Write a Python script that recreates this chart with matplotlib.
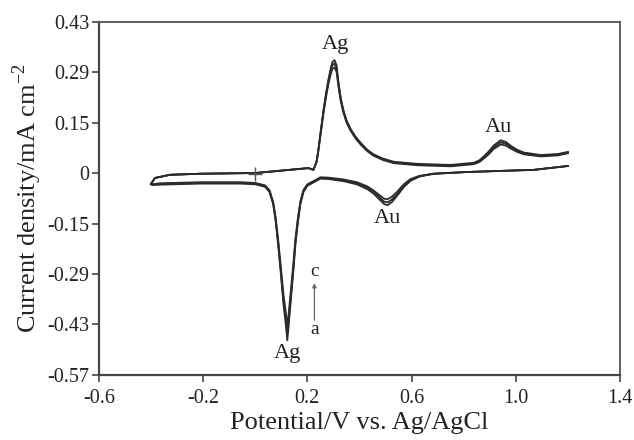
import numpy as np
import matplotlib
matplotlib.use('Agg')
from matplotlib import pyplot as plt

plt.rcParams['font.family'] = ['Liberation Serif', 'DejaVu Serif']
plt.rcParams['mathtext.fontset'] = 'custom'
plt.rcParams['mathtext.rm'] = 'Liberation Serif'

# Прямая развертка (от -0.4 В к 1.2 В)
E_fwd = [-0.40, -0.385, -0.327, -0.212, 0.0, 0.204, 0.223, 0.235, 0.242, 0.252,
         0.262, 0.272, 0.281, 0.290, 0.296, 0.304, 0.312, 0.319, 0.328, 0.338,
         0.350, 0.365, 0.385, 0.404, 0.430, 0.454, 0.490, 0.531, 0.623, 0.750,
         0.838, 0.860, 0.877, 0.897, 0.915, 0.942, 0.962, 0.981, 1.005, 1.031,
         1.096, 1.162, 1.20]
j_fwd_a = [-0.029, -0.012, -0.003, 0.0, 0.002, 0.016, 0.011, 0.033, 0.067, 0.125,
           0.181, 0.230, 0.268, 0.300, 0.316, 0.322, 0.308, 0.262, 0.215, 0.181,
           0.152, 0.128, 0.105, 0.088, 0.068, 0.055, 0.043, 0.034, 0.028, 0.025,
           0.031, 0.038, 0.049, 0.064, 0.080, 0.095, 0.090, 0.079, 0.068, 0.060,
           0.053, 0.056, 0.062]
j_fwd_b = [-0.029, -0.012, -0.003, 0.0, 0.002, 0.016, 0.011, 0.033, 0.066, 0.122,
           0.177, 0.225, 0.262, 0.292, 0.307, 0.312, 0.299, 0.256, 0.211, 0.178,
           0.149, 0.126, 0.103, 0.086, 0.066, 0.053, 0.041, 0.032, 0.026, 0.023,
           0.029, 0.035, 0.046, 0.060, 0.075, 0.089, 0.085, 0.075, 0.065, 0.057,
           0.051, 0.054, 0.060]
j_fwd_c = [-0.029, -0.012, -0.003, 0.0, 0.002, 0.016, 0.011, 0.032, 0.063, 0.118,
           0.172, 0.219, 0.255, 0.283, 0.297, 0.301, 0.289, 0.249, 0.206, 0.174,
           0.146, 0.123, 0.100, 0.083, 0.064, 0.051, 0.039, 0.030, 0.024, 0.021,
           0.027, 0.033, 0.043, 0.056, 0.070, 0.083, 0.080, 0.071, 0.062, 0.055,
           0.049, 0.052, 0.058]

# Обратная развертка (от 1.2 В к -0.4 В)
E_rev = [1.20, 1.069, 0.942, 0.815, 0.685, 0.630, 0.596, 0.570, 0.546, 0.525,
         0.508, 0.495, 0.481, 0.455, 0.431, 0.390, 0.338, 0.280, 0.250, 0.238,
         0.200, 0.185, 0.173, 0.163, 0.154, 0.145, 0.135, 0.128, 0.123, 0.118,
         0.108, 0.098, 0.088, 0.078, 0.069, 0.055, 0.038, 0.0, -0.058, -0.212,
         -0.365, -0.395, -0.40]
j_rev_a = [0.022, 0.011, 0.008, 0.005, 0.0, -0.008, -0.020, -0.038, -0.061, -0.080,
           -0.089, -0.086, -0.076, -0.057, -0.044, -0.030, -0.021, -0.015, -0.014, -0.019,
           -0.034, -0.052, -0.087, -0.142, -0.202, -0.287, -0.372, -0.432, -0.472, -0.432,
           -0.367, -0.282, -0.202, -0.132, -0.087, -0.052, -0.037, -0.030, -0.028, -0.028,
           -0.031, -0.032, -0.029]
j_rev_b = [0.022, 0.011, 0.008, 0.005, 0.0, -0.007, -0.018, -0.035, -0.056, -0.073,
           -0.081, -0.079, -0.070, -0.052, -0.040, -0.027, -0.018, -0.013, -0.012, -0.017,
           -0.032, -0.049, -0.083, -0.136, -0.195, -0.278, -0.360, -0.418, -0.455, -0.418,
           -0.356, -0.274, -0.196, -0.128, -0.084, -0.050, -0.035, -0.028, -0.026, -0.026,
           -0.029, -0.031, -0.029]
j_rev_c = [0.022, 0.011, 0.008, 0.005, 0.0, -0.006, -0.015, -0.030, -0.050, -0.065,
           -0.072, -0.071, -0.063, -0.048, -0.036, -0.024, -0.016, -0.011, -0.010, -0.015,
           -0.030, -0.046, -0.079, -0.129, -0.186, -0.265, -0.343, -0.398, -0.435, -0.398,
           -0.340, -0.262, -0.188, -0.123, -0.081, -0.047, -0.033, -0.026, -0.024, -0.024,
           -0.027, -0.030, -0.029]

yTickLabels = ['0.43', '0.29', '0.15', '0', '-0.15', '-0.29', '-0.43', '-0.57']
xTicks = [-0.6, -0.2, 0.2, 0.6, 1.0, 1.4]
xTickLabels = ['-0.6', '-0.2', '0.2', '0.6', '1.0', '1.4']

fig = plt.figure(figsize=(6.34, 4.4), dpi=100)
ax = fig.add_axes([0.156, 0.148, 0.822, 0.802])

lineColor = '#2b2b2b'
for jf, jr in [(j_fwd_a, j_rev_a), (j_fwd_b, j_rev_b), (j_fwd_c, j_rev_c)]:
    ax.plot(E_fwd, jf, color=lineColor, linewidth=1.3, solid_joinstyle='round')
    ax.plot(E_rev, jr, color=lineColor, linewidth=1.3, solid_joinstyle='round')

# отметка начала координат
ax.plot([0.0], [0.0], marker='+', markersize=10, color='#555555', markeredgewidth=1)

ax.set_xlim(-0.6, 1.4)
ax.set_ylim(-0.57, 0.43)
ax.set_xticks(xTicks)
ax.set_xticklabels(xTickLabels)
ax.set_yticks(np.linspace(0.43, -0.57, len(yTickLabels)))
ax.set_yticklabels(yTickLabels)

ax.tick_params(direction='out', length=5, width=1.2, colors='#444444',
               labelsize=14.5, labelcolor='#222222')
ax.tick_params(axis='y', pad=2)
ax.tick_params(axis='x', pad=5)
for side in ['left', 'bottom']:
    ax.spines[side].set_linewidth(1.6)
    ax.spines[side].set_color('#444444')
for side in ['top', 'right']:
    ax.spines[side].set_linewidth(1.3)
    ax.spines[side].set_color('#555555')

ax.set_xlabel('Potential/V vs. Ag/AgCl', fontsize=19, color='#222222', labelpad=3)
ax.set_ylabel('Current density/mA cm$^{-2}$', fontsize=19, color='#222222', labelpad=2)

textColor = '#222222'
ax.text(0.308, 0.34, 'Ag', fontsize=16, ha='center', va='bottom', color=textColor)
ax.text(0.935, 0.105, 'Au', fontsize=16, ha='center', va='bottom', color=textColor)
ax.text(0.508, -0.10, 'Au', fontsize=16, ha='center', va='top', color=textColor)
ax.text(0.123, -0.483, 'Ag', fontsize=16, ha='center', va='top', color=textColor)

ax.annotate('', xy=(0.227, -0.31), xytext=(0.227, -0.415),
            arrowprops=dict(arrowstyle='-|>', color='#666666', lw=0.9,
                            mutation_scale=6, shrinkA=0, shrinkB=0))
ax.text(0.227, -0.302, 'c', fontsize=14, ha='center', va='bottom', color=textColor)
ax.text(0.227, -0.418, 'a', fontsize=14, ha='center', va='top', color=textColor)

plt.savefig('out.png', dpi=100)
